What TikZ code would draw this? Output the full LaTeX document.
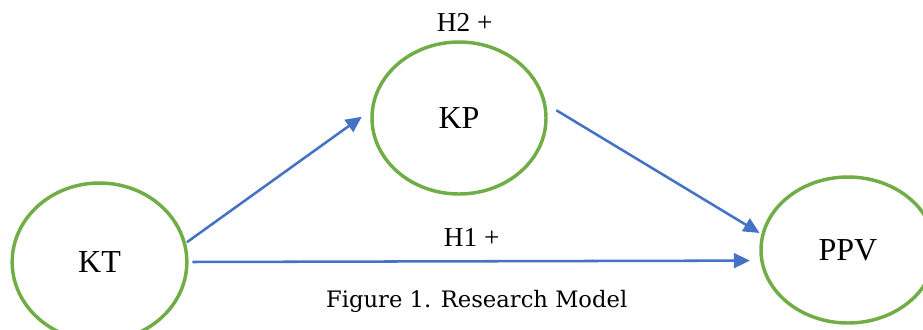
\documentclass[tikz,border=0pt]{standalone}
\usepackage{fontspec}
\setmainfont{Liberation Serif}
\newfontfamily\capfont{DejaVu Serif}
\usetikzlibrary{shapes.geometric,arrows.meta}
\definecolor{ringgreen}{RGB}{112,173,71}
\definecolor{arrowblue}{RGB}{68,114,196}
\begin{document}
\begin{tikzpicture}[x=0.75pt,y=-0.75pt,line cap=round,line join=round,
  construct/.style={ellipse,draw=ringgreen,line width=2.6pt,inner sep=0pt,outer sep=0pt,
    font=\fontsize{24}{27}\selectfont},
  path/.style={draw=arrowblue,line width=1.9pt,
    -{Triangle[length=12pt,width=11pt]}},
  hyp/.style={anchor=base,font=\fontsize{20.5}{23}\selectfont}]
\useasboundingbox (0,0) rectangle (923,329);
\node[construct,minimum width=131pt,minimum height=118.5pt] (kt) at (99.5,262) {KT};
\node[construct,minimum width=130.5pt,minimum height=114pt] (kp) at (459,118) {KP};
\node[construct,minimum width=130.5pt,minimum height=109.5pt] (ppv) at (848,250) {PPV};
\draw[path,shorten <=2.7pt,shorten >=10pt] (kt.12.7) -- (kp.174.4);
\draw[path,shorten <=11pt,shorten >=2.9pt] (kp.10.4) -- (ppv.170.35);
\draw[path,shorten <=4.7pt,shorten >=9pt] (kt.0) -- (ppv.187.8);
\node[hyp] (h2) at (464.7,31.7) {H2 +};
\node[hyp] (h1) at (471.7,246.7) {H1 +};
\node[anchor=base,font=\capfont\fontsize{17}{20}\selectfont] (caption) at (476.7,307.3) {Figure 1. Research Model};
\end{tikzpicture}
\end{document}
